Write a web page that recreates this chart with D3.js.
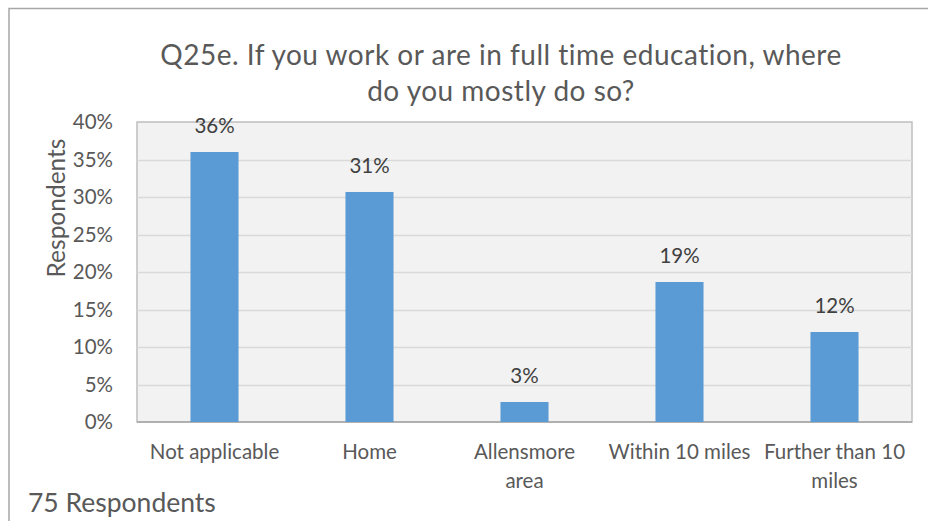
<!DOCTYPE html>
<html>
<head>
<meta charset="utf-8">
<script src="https://cdn.jsdelivr.net/npm/d3@7"></script>
<style>
  body { margin: 0; background: #fff; }
  text { font-family: Lato, "Open Sans", sans-serif; fill: #595959; }
</style>
</head>
<body>
<div id="chart"></div>
<script>
// data
var categories = ["Not applicable", "Home", "Allensmore area", "Within 10 miles", "Further than 10 miles"];
var categoryLines = [["Not applicable"], ["Home"], ["Allensmore", "area"], ["Within 10 miles"], ["Further than 10", "miles"]];
var values = [0.36, 0.3067, 0.0267, 0.1867, 0.12];
var valueLabels = ["36%", "31%", "3%", "19%", "12%"];
var yTicks = [0, 0.05, 0.10, 0.15, 0.20, 0.25, 0.30, 0.35, 0.40];
var titleLines = ["Q25e. If you work or are in full time education, where", "do you mostly do so?"];

var width = 928, height = 521;
var margin = {top: 122, right: 16, bottom: 99, left: 137};

var svg = d3.select("#chart").append("svg")
    .attr("width", width)
    .attr("height", height);

// outer frame
svg.append("path")
    .attr("d", "M9,530 L9,8.5 L940,8.5")
    .attr("fill", "none")
    .attr("stroke", "#a6a6a6")
    .attr("stroke-width", 1.5);

var x = d3.scaleBand()
    .domain(categories)
    .range([margin.left, width - margin.right])
    .paddingInner(0.69)
    .paddingOuter(0.345);

var y = d3.scaleLinear()
    .domain([0, 0.40])
    .range([height - margin.bottom, margin.top]);

// plot background
svg.append("rect")
    .attr("x", margin.left)
    .attr("y", y(0.40))
    .attr("width", width - margin.right - margin.left)
    .attr("height", y(0) - y(0.40))
    .attr("fill", "#f2f2f2")
    .attr("stroke", "#bfbfbf")
    .attr("stroke-width", 1.5);

// gridlines
svg.append("g")
    .selectAll("line")
    .data(yTicks.slice(1, -1))
    .enter()
    .append("line")
    .attr("x1", margin.left)
    .attr("x2", width - margin.right)
    .attr("y1", function(d) { return Math.round(y(d)) + 0.5; })
    .attr("y2", function(d) { return Math.round(y(d)) + 0.5; })
    .attr("stroke", "#d9d9d9")
    .attr("stroke-width", 1.5);

// y axis labels
var yAxis = d3.axisLeft(y)
    .tickValues(yTicks)
    .tickFormat(d3.format(".0%"))
    .tickSize(0)
    .tickPadding(24);

var gy = svg.append("g")
    .attr("transform", "translate(" + margin.left + ",0)")
    .call(yAxis);
gy.select(".domain").remove();
gy.selectAll("text")
    .attr("font-size", 20.5)
    .attr("font-family", null)
    .attr("fill", "#595959");

// bottom axis line
svg.append("line")
    .attr("x1", margin.left)
    .attr("x2", width - margin.right)
    .attr("y1", y(0))
    .attr("y2", y(0))
    .attr("stroke", "#a6a6a6")
    .attr("stroke-width", 1.5);

// bars
svg.append("g")
    .selectAll("rect")
    .data(values)
    .enter()
    .append("rect")
    .attr("x", function(d, i) { return x(categories[i]); })
    .attr("y", function(d) { return y(d); })
    .attr("width", x.bandwidth())
    .attr("height", function(d) { return y(0) - y(d); })
    .attr("fill", "#5b9bd5");

// value labels
svg.append("g")
    .selectAll("text")
    .data(values)
    .enter()
    .append("text")
    .attr("x", function(d, i) { return x(categories[i]) + x.bandwidth() / 2; })
    .attr("y", function(d) { return y(d) - 19; })
    .attr("text-anchor", "middle")
    .attr("font-size", 20.5)
    .style("fill", "#404040")
    .text(function(d, i) { return valueLabels[i]; });

// category labels
var cat = svg.append("g")
    .selectAll("text")
    .data(categoryLines)
    .enter()
    .append("text")
    .attr("text-anchor", "middle")
    .attr("font-size", 20.5)
    .attr("transform", function(d, i) {
        return "translate(" + (x(categories[i]) + x.bandwidth() / 2) + "," + 459 + ")";
    });
cat.selectAll("tspan")
    .data(function(d) { return d; })
    .enter()
    .append("tspan")
    .attr("x", 0)
    .attr("dy", function(d, i) { return i === 0 ? 0 : 29; })
    .text(function(d) { return d; });

// title
svg.append("g")
    .selectAll("text")
    .data(titleLines)
    .enter()
    .append("text")
    .attr("x", 501)
    .attr("y", function(d, i) { return 65 + i * 36; })
    .attr("text-anchor", "middle")
    .attr("font-size", 28)
    .attr("letter-spacing", 0.5)
    .text(function(d) { return d; });

// y axis title
svg.append("text")
    .attr("transform", "translate(65,208) rotate(-90)")
    .attr("text-anchor", "middle")
    .attr("font-size", 24.5)
    .text("Respondents");

// footnote
svg.append("text")
    .attr("x", 28)
    .attr("y", 512)
    .attr("font-size", 26.5)
    .text("75 Respondents");
</script>
</body>
</html>
